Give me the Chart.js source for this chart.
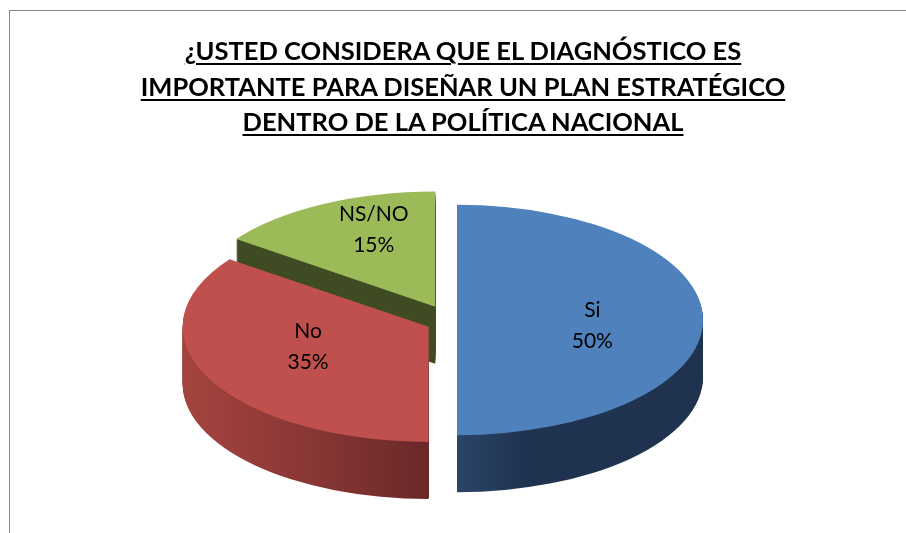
<!DOCTYPE html>
<html>
<head>
<meta charset="utf-8">
<script src="https://cdn.jsdelivr.net/npm/chart.js@4.4.1/dist/chart.umd.min.js"></script>
<style>
    html, body { margin: 0; padding: 0; background: #fff; }
    #wrap { position: relative; width: 906px; height: 533px; overflow: hidden; }
    #frame {
        position: absolute; left: 9px; top: 10px; width: 940px; height: 600px;
        border-left: 1.5px solid #8a8a8a; border-top: 1.5px solid #8a8a8a;
    }
    #title {
        position: absolute; left: 0; top: 33px; width: 926px;
        text-align: center; color: #000;
        font: bold 25.5px Lato, "Open Sans", sans-serif; line-height: 35.5px;
        text-decoration: underline; text-decoration-thickness: 2px; text-underline-offset: 3px;
    }
    #c { position: absolute; left: 0; top: 0; }
</style>
</head>
<body>
<div id="wrap">
    <div id="frame"></div>
    <canvas id="c" width="906" height="533"></canvas>
    <div id="title"></div>
</div>
<script>
// chart data
const titleLines = [
    '¿USTED CONSIDERA QUE EL DIAGNÓSTICO ES',
    'IMPORTANTE PARA DISEÑAR UN PLAN ESTRATÉGICO',
    'DENTRO DE LA POLÍTICA NACIONAL'
];
const categories = ['Si', 'No', 'NS/NO'];
const percentages = [50, 35, 15];

// styles
const topColors = ['#4f81bd', '#c0504d', '#9bbb59'];
const sideColors = [
    ['#2e4a6e', '#1f3350', '#1f3350'],
    ['#a4443f', '#8a3735', '#6a2829'],
    ['#3f4b22', '#3f4b22', '#3f4b22']
];

document.getElementById('title').innerHTML = titleLines.join('<br>');

const tilt = 0.468;     // vertical squash of the pie top
const depth = 57;       // thickness of the pie in px
const explode = 15;     // how far slices are pulled out

function sliceShift(el) {
    const mid = (el.startAngle + el.endAngle) / 2;
    return [Math.cos(mid) * explode, Math.sin(mid) * explode];
}

function applyTilt(ctx, el, dx, dy) {
    ctx.translate(el.x + dx, el.y + dy);
    ctx.scale(1, tilt);
    ctx.translate(-el.x, -el.y);
}

const pie3d = {
    id: 'pie3d',
    beforeDatasetsDraw(chart) {
        const ctx = chart.ctx;
        const arcs = chart.getDatasetMeta(0).data;

        // sides first, stacked copies going down
        arcs.forEach((el, i) => {
            const [dx, dy] = sliceShift(el);
            const r = el.outerRadius;
            const g = ctx.createLinearGradient(el.x - r * 0.1, 0, el.x + r, 0);
            g.addColorStop(0, sideColors[i][0]);
            g.addColorStop(0.35, sideColors[i][1]);
            g.addColorStop(1, sideColors[i][2]);
            const gl = ctx.createLinearGradient(el.x - r, 0, el.x, 0);
            gl.addColorStop(0, sideColors[i][0]);
            gl.addColorStop(0.5, sideColors[i][1]);
            gl.addColorStop(1, sideColors[i][2]);
            const fill = Math.cos((el.startAngle + el.endAngle) / 2) >= 0 ? g : gl;
            for (let k = depth; k >= 1; k--) {
                ctx.save();
                applyTilt(ctx, el, dx, dy + k);
                ctx.beginPath();
                ctx.moveTo(el.x, el.y);
                ctx.arc(el.x, el.y, r, el.startAngle, el.endAngle);
                ctx.closePath();
                ctx.fillStyle = fill;
                ctx.fill();
                ctx.restore();
            }
        });

        // top faces, drawn by the arc elements themselves
        arcs.forEach(el => {
            const [dx, dy] = sliceShift(el);
            ctx.save();
            applyTilt(ctx, el, dx, dy);
            el.draw(ctx);
            ctx.restore();
        });
        return false;
    },
    afterDraw(chart) {
        const ctx = chart.ctx;
        const arcs = chart.getDatasetMeta(0).data;
        const total = percentages.reduce((a, b) => a + b, 0);
        ctx.save();
        ctx.font = '21px Lato, "Open Sans", sans-serif';
        ctx.fillStyle = '#000';
        ctx.textAlign = 'center';
        ctx.textBaseline = 'middle';
        arcs.forEach((el, i) => {
            const [dx, dy] = sliceShift(el);
            const mid = (el.startAngle + el.endAngle) / 2;
            const s = Math.sin(mid);
            const r = el.outerRadius;
            const x = el.x + dx + Math.cos(mid) * r * 0.55;
            const y = el.y + dy + 5 + s * r * tilt * (s < 0 ? 0.8 : 0.27);
            ctx.fillText(categories[i], x, y - 15);
            ctx.fillText(Math.round(percentages[i] / total * 100) + '%', x, y + 16);
        });
        ctx.restore();
    }
};

new Chart(document.getElementById('c'), {
    type: 'pie',
    data: {
        labels: categories,
        datasets: [{
            data: percentages,
            backgroundColor: topColors,
            borderWidth: 0,
            radius: 246
        }]
    },
    options: {
        responsive: false,
        animation: false,
        events: [],
        layout: { padding: { left: 0, right: 22, top: 107, bottom: 0 } },
        plugins: {
            legend: { display: false },
            tooltip: { enabled: false },
            title: { display: false }
        }
    },
    plugins: [pie3d]
});
</script>
</body>
</html>
